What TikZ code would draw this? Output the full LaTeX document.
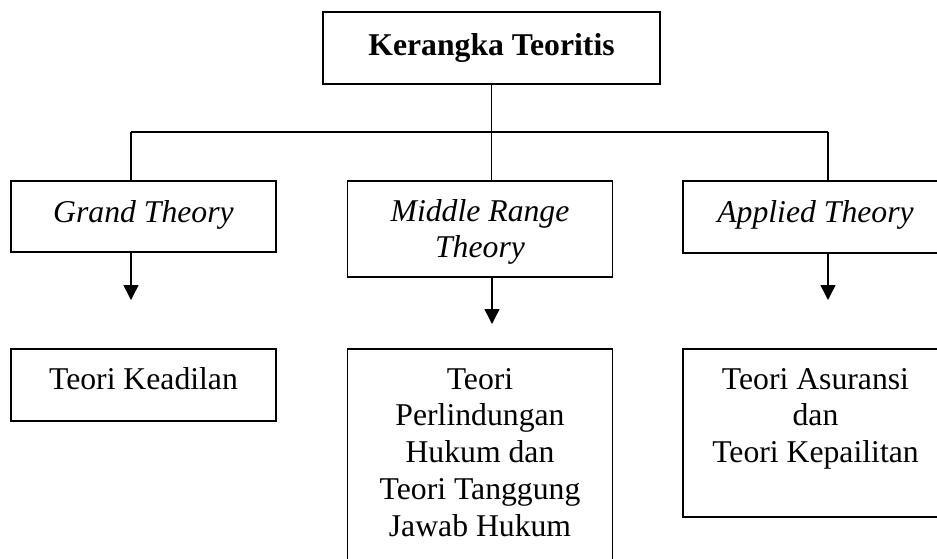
\documentclass[tikz,border=0pt]{standalone}
\usepackage{fontspec}
\setmainfont{Liberation Serif}
\usetikzlibrary{arrows.meta}

\newcommand{\stacked}[1]{\begin{tabular}[t]{@{}c@{}}#1\end{tabular}}

\tikzset{
	box/.style={draw, line width=1.8pt, inner sep=0pt, minimum width=265pt, anchor=base, font=\fontsize{31.7}{36.8}\selectfont},
	theory/.style={box, font=\fontsize{31.7}{36.8}\selectfont\itshape},
	link/.style={line width=1.5pt},
	arr/.style={line width=1.5pt, -{Triangle[length=15pt, width=15pt]}}
}

\begin{document}
\begin{tikzpicture}[x=1pt, y=-1pt]
			\useasboundingbox (0,0) rectangle (937,558);
			\clip (0,0) rectangle (937,558);
			
			% Top box
			\node[box, minimum width=337pt, text height=43pt, text depth=29pt, font=\fontsize{31.7}{36.8}\selectfont\bfseries] (kerangka) at (491.5,55) {Kerangka Teoritis};
			
			% Theories (y=222)
			\node[theory, text height=41pt, text depth=30pt] (grand) at (143.5,222) {Grand Theory};
			\node[theory, text height=40pt, text depth=56pt] (middle) at (480,221) {\stacked{Middle Range\\Theory}};
			\node[theory, text height=41pt, text depth=31pt] (applied) at (815.5,222) {Applied Theory};
			
			% Contents (y=389)
			\node[box, text height=40pt, text depth=32pt] (keadilan) at (143.5,389) {Teori Keadilan};
			\node[box, text height=40pt, text depth=240pt] (perlindungan) at (480,389) {\stacked{Teori\\Perlindungan\\Hukum dan\\Teori Tanggung\\Jawab Hukum}};
			\node[box, text height=40pt, text depth=128pt] (asuransi) at (815.5,389) {\stacked{Teori Asuransi\\dan\\Teori Kepailitan}};
			
			% Bus (y=132)
			\coordinate (busL) at (131,132);
			\coordinate (busR) at (828,132);
			\coordinate (tipL) at (131,300);
			\coordinate (tipM) at (492,324);
			\coordinate (tipR) at (828,300);
			
			\draw[link] (kerangka.south) -- (kerangka.south |- busL);
			\draw[link] (busL) -- (busR);
			\draw[link] (busL) -- (busL |- grand.north);
			\draw[link] (kerangka.south |- busL) -- (kerangka.south |- middle.north);
			\draw[link] (busR) -- (busR |- applied.north);
			
			% Arrows
			\draw[arr] (grand.south -| tipL) -- (tipL);
			\draw[arr] (middle.south -| tipM) -- (tipM);
			\draw[arr] (applied.south -| tipR) -- (tipR);
			
		\end{tikzpicture}
\end{document}
